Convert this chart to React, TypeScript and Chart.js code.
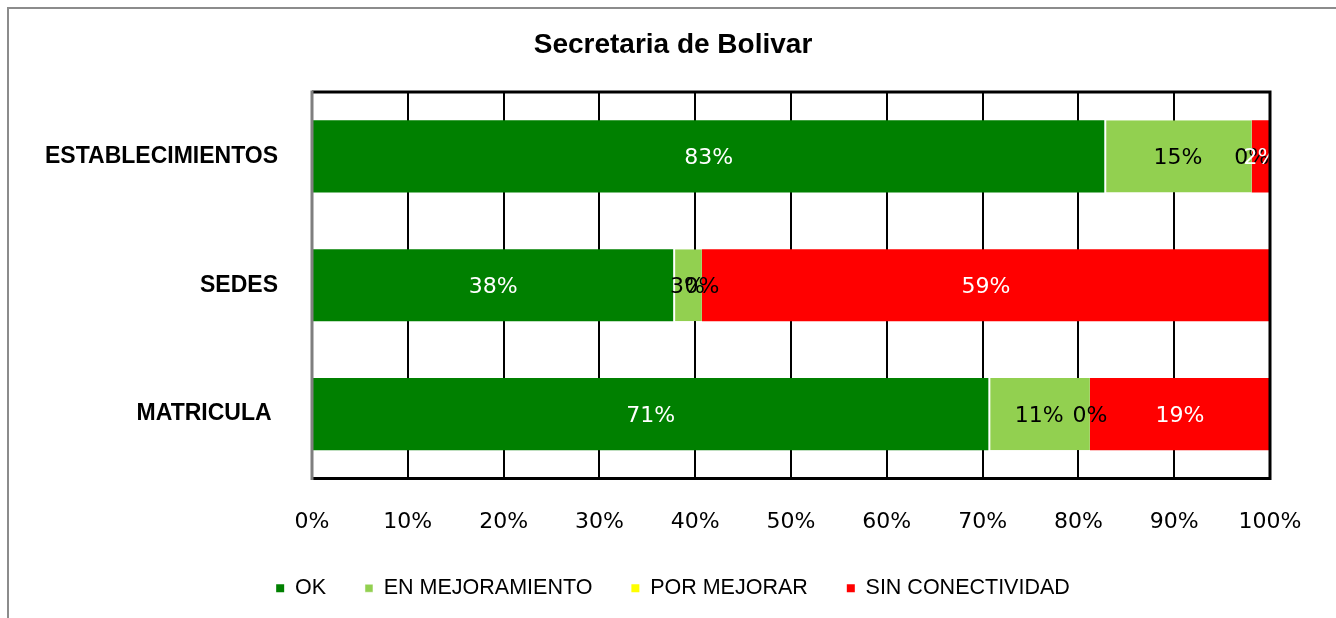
import React, { useEffect, useRef } from 'react';
import { Chart, registerables } from 'chart.js';

Chart.register(...registerables);

const chartTitle = 'Secretaria de Bolivar';
const categories = ['ESTABLECIMIENTOS', 'SEDES', 'MATRICULA '];
const seriesNames = ['OK', 'EN MEJORAMIENTO', 'POR MEJORAR', 'SIN CONECTIVIDAD'];
const okValues = [82.7, 37.7, 70.6];
const enMejoramientoValues = [15.4, 3.0, 10.6];
const porMejorarValues = [0, 0, 0];
const sinConectividadValues = [1.9, 59.3, 18.8];
const seriesColors = ['#008000', '#92D050', '#FFFF00', '#FF0000'];
const labelColors = ['#FFFFFF', '#000000', '#000000', '#FFFFFF'];
const xMin = 0;
const xMax = 100;
const xStep = 10;

const TICK_FONT = '"DejaVu Sans", sans-serif';
const ARIAL = '"Liberation Sans", Arial, sans-serif';

const decorPlugin = {
  id: 'decor',
  beforeDraw(chart: any) {
    const ctx = chart.ctx;
    ctx.save();
    ctx.fillStyle = '#FFFFFF';
    ctx.fillRect(0, 0, chart.width, chart.height);
    ctx.strokeStyle = '#8C8C8C';
    ctx.lineWidth = 2;
    ctx.beginPath();
    ctx.moveTo(8, chart.height);
    ctx.lineTo(8, 8);
    ctx.lineTo(chart.width, 8);
    ctx.stroke();
    ctx.restore();
  },
  afterDatasetsDraw(chart: any) {
    const ctx = chart.ctx;
    const area = chart.chartArea;
    ctx.save();
    ctx.beginPath();
    ctx.rect(area.left, area.top, area.right - area.left + 2, area.bottom - area.top);
    ctx.clip();
    ctx.font = '22px ' + TICK_FONT;
    ctx.textAlign = 'center';
    ctx.textBaseline = 'middle';
    chart.data.datasets.forEach((ds: any, i: number) => {
      const meta = chart.getDatasetMeta(i);
      meta.data.forEach((bar: any, j: number) => {
        const p = bar.getProps(['x', 'y', 'base'], true);
        const v = ds.data[j];
        ctx.fillStyle = labelColors[i];
        ctx.fillText(Math.round(v) + '%', (p.x + p.base) / 2, p.y + 2);
      });
    });
    ctx.restore();

    ctx.save();
    ctx.lineWidth = 3;
    ctx.strokeStyle = '#000000';
    ctx.beginPath();
    ctx.moveTo(area.left, area.top);
    ctx.lineTo(area.right, area.top);
    ctx.lineTo(area.right, area.bottom);
    ctx.lineTo(area.left, area.bottom);
    ctx.stroke();
    ctx.strokeStyle = '#7F7F7F';
    ctx.beginPath();
    ctx.moveTo(area.left, area.top - 1.5);
    ctx.lineTo(area.left, area.bottom + 1.5);
    ctx.stroke();
    ctx.restore();
  },
};

export default function App() {
  const canvasRef = useRef<HTMLCanvasElement | null>(null);

  useEffect(() => {
    const canvas = canvasRef.current;
    if (!canvas) return;
    const allValues = [okValues, enMejoramientoValues, porMejorarValues, sinConectividadValues];
    const chart = new Chart(canvas, {
      type: 'bar',
      data: {
        labels: categories,
        datasets: allValues.map((vals, i) => ({
          label: seriesNames[i],
          data: vals,
          backgroundColor: seriesColors[i],
          borderColor: '#FFFFFF',
          borderWidth: i === 1 ? { left: 2, right: 0, top: 0, bottom: 0 } : 0,
          borderSkipped: false,
          categoryPercentage: 0.56,
          barPercentage: 1,
        })),
      },
      plugins: [decorPlugin],
      options: {
        indexAxis: 'y',
        responsive: false,
        animation: false,
        devicePixelRatio: 1,
        layout: { padding: { left: 10, right: 0, top: 0, bottom: 9 } },
        scales: {
          x: {
            stacked: true,
            min: xMin,
            max: xMax,
            ticks: {
              stepSize: xStep,
              padding: 31,
              color: '#000000',
              font: { family: TICK_FONT, size: 22 },
              callback: (v: any) => v + '%',
            },
            grid: { color: '#000000', lineWidth: 2, drawTicks: false },
            border: { display: false },
            afterFit: (scale: any) => {
              scale.height = 60;
            },
          },
          y: {
            stacked: true,
            ticks: {
              padding: 34,
              color: '#000000',
              font: { family: ARIAL, size: 23, weight: 'bold' },
            },
            grid: { display: false, drawTicks: false },
            border: { display: false },
            afterFit: (scale: any) => {
              scale.width = 302;
            },
          },
          yRight: {
            type: 'category',
            labels: categories,
            position: 'right',
            ticks: { display: false },
            grid: { display: false, drawTicks: false },
            border: { display: false },
            afterFit: (scale: any) => {
              scale.width = 66;
            },
          },
        },
        plugins: {
          title: {
            display: true,
            text: chartTitle,
            color: '#000000',
            font: { family: ARIAL, size: 28, weight: 'bold' },
            padding: { top: 28.5, bottom: 29.9 },
          },
          legend: {
            position: 'bottom',
            labels: {
              color: '#000000',
              font: { family: ARIAL, size: 21.5 },
              boxWidth: 8,
              boxHeight: 8,
              padding: 39,
            },
          },
          tooltip: { enabled: false },
        },
      },
    } as any);
    return () => chart.destroy();
  }, []);

  return (
    <div style={{ position: 'absolute', left: 0, top: 0, width: 1336, height: 618 }}>
      <canvas ref={canvasRef} width={1336} height={618} style={{ display: 'block', width: 1336, height: 618 }} />
    </div>
  );
}
